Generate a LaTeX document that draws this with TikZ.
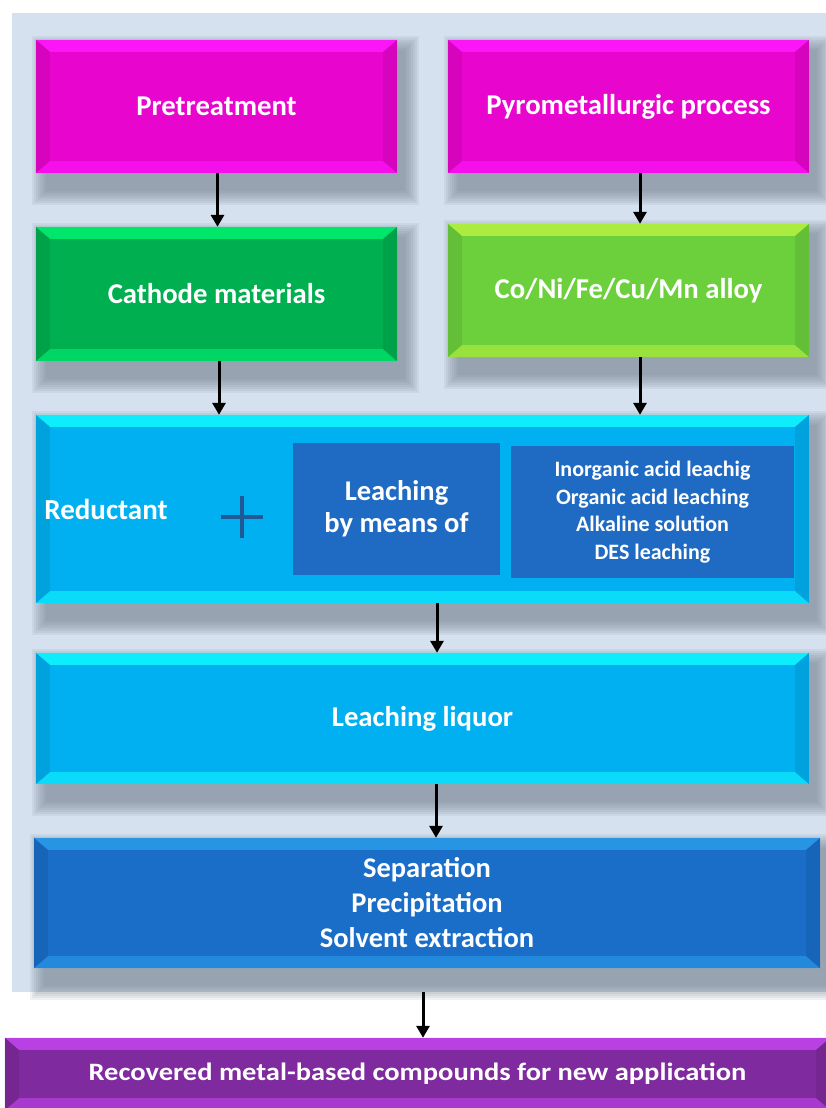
\documentclass[tikz,border=0pt]{standalone}
\usepackage{fontspec}
\setmainfont{Carlito}
\usetikzlibrary{arrows.meta,calc}
\pgfdeclarelayer{bg}
\pgfdeclarelayer{shad}
\pgfsetlayers{bg,shad,main}
\definecolor{panelc}{HTML}{D5E1EF}
\definecolor{shadc}{HTML}{6E7A88}
\definecolor{magc}{HTML}{E805CD}
\definecolor{magl}{HTML}{FF18FF}
\definecolor{grnc}{HTML}{00B050}
\definecolor{grnl}{HTML}{00F070}
\definecolor{limc}{HTML}{6CCF3C}
\definecolor{liml}{HTML}{B8F040}
\definecolor{cyac}{HTML}{00B0F0}
\definecolor{cyal}{HTML}{10F8FF}
\definecolor{bluc}{HTML}{1A6EC8}
\definecolor{blul}{HTML}{2A9CEA}
\definecolor{innc}{HTML}{1F6BC3}
\definecolor{purc}{HTML}{7F2A9E}
\definecolor{purl}{HTML}{C444F0}
\definecolor{plusc}{HTML}{1F5A96}
\tikzset{
  box/.style={rectangle, inner sep=0pt, text=white, font=\bfseries, align=center},
  big/.style={font=\bfseries\fontsize{28.7}{34}\selectfont},
  arr/.style={draw=black, line width=3pt, -{Triangle[width=13pt,length=12pt]}},
}
\newcommand{\shd}[1]{%
  \begin{pgfonlayer}{shad}
  \foreach \s in {0,2,...,14}{%
    \fill[shadc, opacity=0.1] ([shift={({10-\s},{10-\s})}]#1.north west) rectangle ([shift={({8+\s},{18+\s})}]#1.south east);}
  \end{pgfonlayer}}
\newcommand{\bev}[3]{%
  \fill[#2,opacity=0.85] (#1.north west) -- (#1.north east) -- ([shift={(-14,12)}]#1.north east) -- ([shift={(14,12)}]#1.north west) -- cycle;
  \fill[#2,opacity=0.6] (#1.south west) -- (#1.south east) -- ([shift={(-14,-12)}]#1.south east) -- ([shift={(14,-12)}]#1.south west) -- cycle;
  \fill[#3,opacity=0.5] (#1.north west) -- ([shift={(14,12)}]#1.north west) -- ([shift={(14,-12)}]#1.south west) -- (#1.south west) -- cycle;
  \fill[#3,opacity=0.5] (#1.north east) -- ([shift={(-14,12)}]#1.north east) -- ([shift={(-14,-12)}]#1.south east) -- (#1.south east) -- cycle;}
\begin{document}
\begin{tikzpicture}[x=1pt,y=-1pt]
\useasboundingbox (0,0) rectangle (825,1108);
\begin{pgfonlayer}{bg}
\fill[white] (0,0) rectangle (825,1108);
\node[rectangle, fill=panelc, minimum width=818pt, minimum height=979pt, inner sep=0pt] (panel) at (421,502.5) {};
\end{pgfonlayer}

\node[box, big, fill=magc, minimum width=361pt, minimum height=133pt] (pre) at (216.5,106.5) {Pretreatment};
\node[box, big, fill=magc, minimum width=361pt, minimum height=133pt] (pyro) at (628.5,106.5) {Pyrometallurgic process};
\node[box, big, fill=grnc, minimum width=361pt, minimum height=134pt] (cath) at (216.5,294) {Cathode materials};
\node[box, big, fill=limc, minimum width=361pt, minimum height=133pt] (alloy) at (628.5,290.5) {Co/Ni/Fe/Cu/Mn alloy};
\node[box, fill=cyac, minimum width=773pt, minimum height=188pt] (leach) at (422.5,509) {};
\node[box, big, fill=cyac, minimum width=773pt, minimum height=131pt] (liquor) at (422.5,718.5) {Leaching liquor};
\node[box, fill=bluc, minimum width=786pt, minimum height=130pt, font=\bfseries\fontsize{28.5}{35}\selectfont] (sep) at (427,903) {Separation\\Precipitation\\Solvent extraction};
\node[box, fill=purc, minimum width=825pt, minimum height=72pt, font=\bfseries\fontsize{25}{28}\selectfont] (rec) at (417.5,1074) {\scalebox{1.14}[1]{Recovered metal-based compounds for new application}};

\shd{pre}\shd{pyro}\shd{cath}\shd{alloy}\shd{leach}\shd{liquor}\shd{sep}
\bev{pre}{magl}{magc!85!black}
\bev{pyro}{magl}{magc!85!black}
\bev{cath}{grnl}{grnc!85!black}
\bev{alloy}{liml}{limc!85!black}
\bev{leach}{cyal}{cyac!85!black}
\bev{liquor}{cyal}{cyac!85!black}
\bev{sep}{blul}{bluc!85!black}
\bev{rec}{purl}{purc!85!black}

\node[box, fill=innc, minimum width=207pt, minimum height=132pt, font=\bfseries\fontsize{28.5}{32}\selectfont] (means) at (396.5,509) {Leaching\\by means of};
\node[box, fill=innc, minimum width=283pt, minimum height=132pt, font=\bfseries\fontsize{22}{27.5}\selectfont] (list) at (652.5,512) {Inorganic acid leachig\\Organic acid leaching\\Alkaline solution\\DES leaching};
\node[box, font=\bfseries\fontsize{29}{32}\selectfont] (red) at (106,509) {Reductant};
\node[inner sep=0pt, minimum size=42pt] (plus) at (242,517) {};
\draw[plusc, line width=3.2pt] (plus.west) -- (plus.east) (plus.north) -- (plus.south);

\draw[arr] ([xshift=1]pre.south) -- ([xshift=1]pre.south |- cath.north);
\draw[arr] ([xshift=11.5]pyro.south) -- ([xshift=11.5]pyro.south |- alloy.north);
\draw[arr] ([xshift=2.5]cath.south) -- ([xshift=2.5]cath.south |- leach.north);
\draw[arr] ([xshift=11.5]alloy.south) -- ([xshift=11.5]alloy.south |- leach.north);
\draw[arr] ([xshift=14.5]leach.south) -- ([xshift=14.5]leach.south |- liquor.north);
\draw[arr] ([xshift=13.5]liquor.south) -- ([xshift=13.5]liquor.south |- sep.north);
\draw[arr] ([xshift=2]panel.south) -- ([xshift=2]panel.south |- rec.north);
\end{tikzpicture}
\end{document}
